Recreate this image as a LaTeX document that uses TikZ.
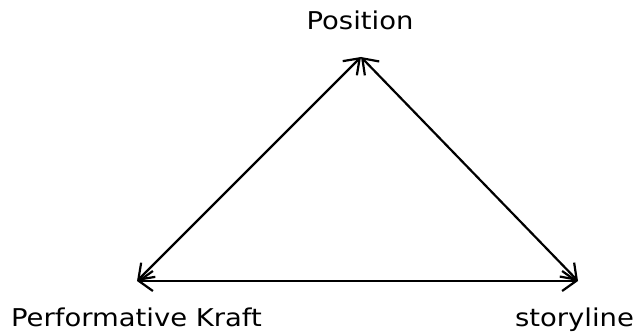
\documentclass[tikz,border=0pt]{standalone}
\usepackage{fontspec}
\newfontfamily\vfont[FakeStretch=1.12]{DejaVu Sans}
\usetikzlibrary{arrows.meta}
\begin{document}
\begin{tikzpicture}[x=1pt,y=-1pt,
  tip/.tip={Straight Barb[length=14pt,width=20pt,line width=2.2pt]},
  conn/.style={line width=2.2pt,tip-tip},
  lbl/.style={font=\vfont\fontsize{24.5}{28}\selectfont, inner sep=0pt, anchor=base}]
\useasboundingbox (0,0) rectangle (637,334);
\coordinate (top) at (361,57);
\coordinate (bl) at (137,281);
\coordinate (br) at (578,281);
\draw[conn] (top) -- (bl);
\draw[conn] (top) -- (br);
\draw[conn] (bl) -- (br);
\node[lbl] (pos) at (360,30) {Position};
\node[lbl] (pk) at (136.5,326) {Performative Kraft};
\node[lbl] (sl) at (574.5,326) {storyline};
\end{tikzpicture}
\end{document}
